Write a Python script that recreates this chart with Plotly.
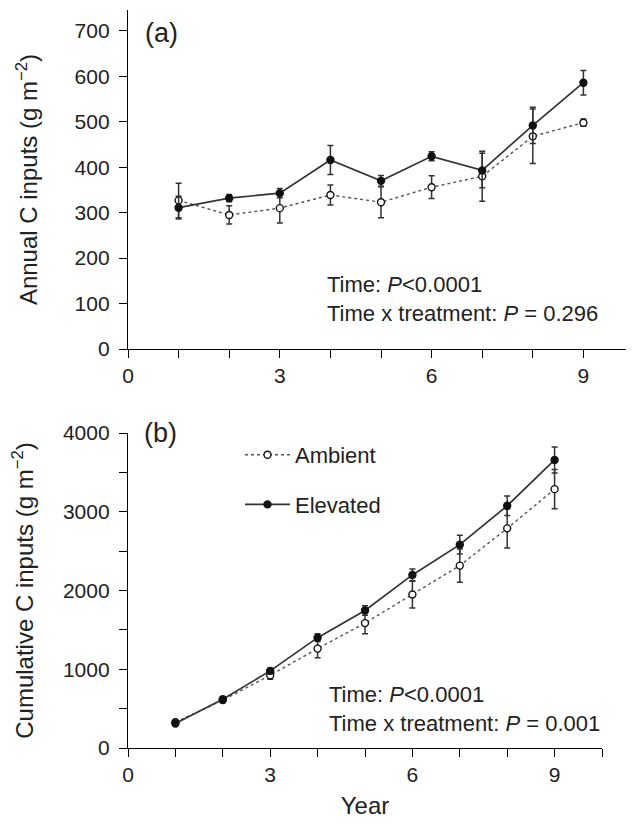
import plotly.graph_objects as go

years = [1, 2, 3, 4, 5, 6, 7, 8, 9]

# Panel (a): annual C inputs (g m-2)
annual_ambient = [327, 295, 310, 339, 323, 356, 380, 468, 498]
annual_ambient_err = [38, 20, 33, 22, 34, 25, 55, 60, 8]
annual_elevated = [311, 332, 343, 416, 370, 424, 393, 492, 586]
annual_elevated_err = [25, 8, 10, 32, 12, 10, 38, 40, 27]

# Panel (b): cumulative C inputs (g m-2)
cum_ambient = [327, 608, 924, 1262, 1586, 1949, 2316, 2789, 3287]
cum_ambient_err = [20, 30, 50, 115, 135, 170, 210, 250, 250]
cum_elevated = [311, 620, 979, 1401, 1747, 2198, 2582, 3076, 3658]
cum_elevated_err = [15, 25, 35, 50, 60, 75, 120, 125, 165]

FONT = "Liberation Sans, Arial, sans-serif"
TXT = "#222222"
LINE = "#333333"

fig = go.Figure()

def add_series(x, y, err, xa, ya, name, filled, show):
    fig.add_trace(go.Scatter(
        x=x, y=y, xaxis=xa, yaxis=ya, name=name, mode="lines+markers",
        legendgroup=name, showlegend=show,
        line=dict(color=LINE if filled else "#555555", width=1.7 if filled else 1.4,
                  dash="solid" if filled else "dot"),
        marker=dict(symbol="circle", size=7,
                    color="#111111" if filled else "white",
                    line=dict(color="#111111", width=1.4)),
        error_y=dict(type="data", array=err, visible=True, color=LINE,
                     thickness=1.5, width=3),
    ))

add_series(years, annual_ambient, annual_ambient_err, "x", "y", "Ambient", False, False)
add_series(years, annual_elevated, annual_elevated_err, "x", "y", "Elevated", True, False)
add_series(years, cum_ambient, cum_ambient_err, "x2", "y2", "Ambient", False, True)
add_series(years, cum_elevated, cum_elevated_err, "x2", "y2", "Elevated", True, True)

axis_common = dict(
    showgrid=False, zeroline=False, showline=True, linecolor="black", linewidth=1.3,
    ticks="outside", ticklen=8, tickwidth=1.3, tickcolor="black", automargin=False,
    tickfont=dict(family=FONT, size=21, color=TXT),
)

# page has an 8px body margin: work in page pixels and subtract it
OFF = 8
W, H = 634 - OFF, 823 - OFF
ml, mr, mt = 128 - OFF, 0, 10 - OFF
mb = H - (748 - OFF)
pw = W - ml - mr
ph = H - mt - mb
TFS = 24

def ydom(top_px, bot_px):
    return [(748 - bot_px) / ph, (748 - top_px) / ph]

fig.update_layout(
    width=W, height=H,
    margin=dict(l=ml, r=mr, t=mt, b=mb),
    paper_bgcolor="white", plot_bgcolor="white",
    font=dict(family=FONT, color=TXT),
    xaxis=dict(**axis_common, domain=[0, 1], range=[0, 10], tickvals=[0, 3, 6, 9],
               minor=dict(tickvals=[1, 2, 4, 5, 7, 8], ticks="outside", ticklen=8,
                          tickwidth=1.3, tickcolor="black"),
               anchor="y"),
    yaxis=dict(**axis_common, domain=ydom(10, 349), range=[0, 746],
               tickvals=[0, 100, 200, 300, 400, 500, 600, 700], anchor="x",
               ticklabelstandoff=5,
               title=dict(text="Annual C inputs (g m<sup>−2</sup>)",
                          font=dict(family=FONT, size=TFS, color=TXT), standoff=30)),
    xaxis2=dict(**axis_common, domain=[0, (602 - 128) / pw], range=[0, 10],
                tickvals=[0, 3, 6, 9],
                minor=dict(tickvals=[1, 2, 4, 5, 7, 8, 10], ticks="outside", ticklen=8,
                           tickwidth=1.3, tickcolor="black"),
                anchor="y2",
                title=dict(text="Year", font=dict(family=FONT, size=TFS, color=TXT), standoff=11)),
    yaxis2=dict(**axis_common, domain=ydom(433, 748), range=[0, 4000],
                tickvals=[0, 1000, 2000, 3000, 4000],
                minor=dict(tickvals=[500, 1500, 2500, 3500], ticks="outside", ticklen=8,
                           tickwidth=1.3, tickcolor="black"),
                anchor="x2", ticklabelstandoff=5,
                title=dict(text="Cumulative C inputs (g m<sup>−2</sup>)",
                           font=dict(family=FONT, size=TFS, color=TXT), standoff=30)),
    legend=dict(x=(240 - 128) / pw, y=(748 - 434) / ph, xanchor="left", yanchor="top",
                font=dict(family=FONT, size=22, color=TXT), bgcolor="rgba(0,0,0,0)",
                traceorder="grouped", tracegroupgap=18, itemwidth=45),
    showlegend=True,
)

ann_font = dict(family=FONT, size=22, color=TXT)
fig.add_annotation(text="(a)", xref="x", yref="y", x=0.3, y=746, xanchor="left", yanchor="top",
                   showarrow=False, font=dict(family=FONT, size=27, color=TXT), yshift=-6)
fig.add_annotation(text="(b)", xref="x2", yref="y2", x=0.3, y=4000, xanchor="left", yanchor="middle",
                   showarrow=False, font=dict(family=FONT, size=27, color=TXT))
fig.add_annotation(text="Time: <i>P</i><0.0001<br>Time x treatment: <i>P</i> = 0.296",
                   xref="x", yref="y", x=3.9, y=110, xanchor="left", yanchor="middle",
                   align="left", showarrow=False, font=ann_font)
fig.add_annotation(text="Time: <i>P</i><0.0001<br>Time x treatment: <i>P</i> = 0.001",
                   xref="x2", yref="y2", x=4.2, y=500, xanchor="left", yanchor="middle",
                   align="left", showarrow=False, font=ann_font)

fig.write_html("out.html")
